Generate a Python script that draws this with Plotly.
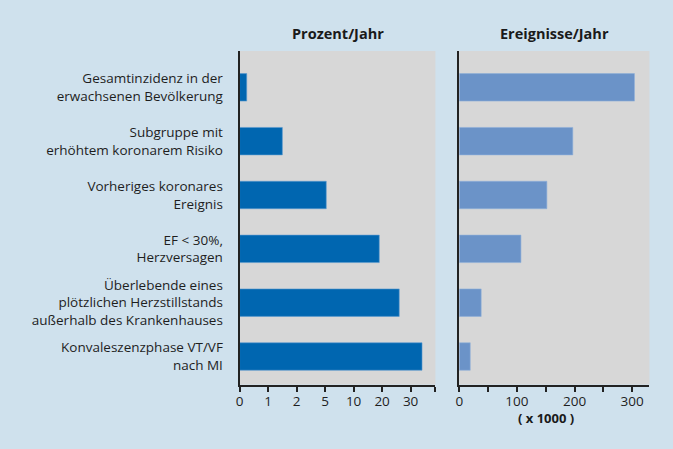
import numpy as np
import plotly.graph_objects as go

categories = [
    "Gesamtinzidenz in der<br>erwachsenen Bevölkerung",
    "Subgruppe mit<br>erhöhtem koronarem Risiko",
    "Vorheriges koronares<br>Ereignis",
    "EF < 30%,<br>Herzversagen",
    "Überlebende eines<br>plötzlichen Herzstillstands<br>außerhalb des Krankenhauses",
    "Konvaleszenzphase VT/VF<br>nach MI",
]
prozent_jahr = [0.25, 1.5, 5.2, 19, 26, 34]
ereignisse_jahr = [304, 197, 152, 107, 38, 19]  # x 1000

pct_ticks = [0, 1, 2, 5, 10, 20, 30]
pct_ticktext = ["0", "1", "2", "5", "10", "20", "30"]
tick_index = list(range(len(pct_ticks)))


def pct_to_pos(v):
    # piecewise-linear (non-uniform) scale used by the original axis
    if v <= pct_ticks[-1]:
        return float(np.interp(v, pct_ticks, tick_index))
    return tick_index[-1] + (v - pct_ticks[-1]) / (pct_ticks[-1] - pct_ticks[-2])


left_pos = [pct_to_pos(v) for v in prozent_jahr]
left_end = 6.87

FONT = "Open Sans"
BG = "#cfe1ed"
GRID_BG = "#d7d7d7"
AX = "#222222"
FS = 13.5

fig = go.Figure()
fig.add_trace(go.Bar(
    y=categories, x=left_pos, orientation="h",
    marker=dict(color="#0066b0", line=dict(color="#5a9ad0", width=0.6)),
    width=0.51, xaxis="x", yaxis="y",
    customdata=prozent_jahr, hovertemplate="%{customdata} %<extra></extra>",
))
fig.add_trace(go.Bar(
    y=categories, x=ereignisse_jahr, orientation="h",
    marker=dict(color="#6b93c8", line=dict(color="#8fb0da", width=0.6)),
    width=0.51, xaxis="x2", yaxis="y2",
))

yrange = [5.52, -0.675]
common_y = dict(
    type="category", categoryorder="array", categoryarray=categories,
    range=yrange, showline=True, linecolor=AX, linewidth=2,
    showgrid=False, zeroline=False, ticks="",
)
fig.update_layout(
    width=673, height=449,
    margin=dict(l=0, r=0, t=0, b=0),
    paper_bgcolor=BG, plot_bgcolor=GRID_BG,
    showlegend=False, bargap=0.4,
    font=dict(family=FONT, size=FS, color="#1e1e1e"),
    xaxis=dict(
        domain=[237 / 673, 434 / 673], range=[0, left_end],
        tickmode="array", tickvals=tick_index + [left_end],
        ticktext=pct_ticktext + [""],
        ticks="outside", ticklen=5, tickwidth=1.5, tickcolor=AX,
        showline=True, linecolor=AX, linewidth=2,
        showgrid=False, zeroline=False, anchor="y",
        ticklabelstandoff=-2,
        tickfont=dict(size=FS),
    ),
    yaxis=dict(
        domain=[(449 - 384.5) / 449, (449 - 51) / 449], anchor="x",
        showticklabels=True, ticklabelstandoff=12,
        tickfont=dict(size=FS), **common_y,
    ),
    xaxis2=dict(
        domain=[458 / 673, 649.3 / 673], range=[0, 330],
        tickvals=[0, 100, 200, 300], ticks="outside", ticklen=5,
        tickwidth=1.5, tickcolor=AX,
        minor=dict(tickvals=[50, 150, 250], ticks="outside", ticklen=5,
                   tickwidth=1.5, tickcolor=AX),
        showline=True, linecolor=AX, linewidth=2,
        showgrid=False, zeroline=False, anchor="y2",
        ticklabelstandoff=-2,
        tickfont=dict(size=FS),
    ),
    yaxis2=dict(
        domain=[(449 - 384.5) / 449, (449 - 51) / 449], anchor="x2",
        showticklabels=False, **common_y,
    ),
    annotations=[
        dict(text="<b>Prozent/Jahr</b>", xref="paper", yref="paper",
             x=(237 + 434) / 2 / 673, y=(449 - 33) / 449, showarrow=False,
             yanchor="middle", xanchor="center",
             font=dict(size=14.5, family=FONT, color="#1a1a1a")),
        dict(text="<b>Ereignisse/Jahr</b>", xref="paper", yref="paper",
             x=(458 + 649.3) / 2 / 673, y=(449 - 33) / 449, showarrow=False,
             yanchor="middle", xanchor="center",
             font=dict(size=14.5, family=FONT, color="#1a1a1a")),
        dict(text="<b>( x 1000 )</b>", xref="x2", yref="paper",
             x=150, y=(449 - 418) / 449, showarrow=False,
             yanchor="middle", xanchor="center",
             font=dict(size=13, family=FONT, color="#1a1a1a")),
    ],
)

fig.write_html("out.html")
